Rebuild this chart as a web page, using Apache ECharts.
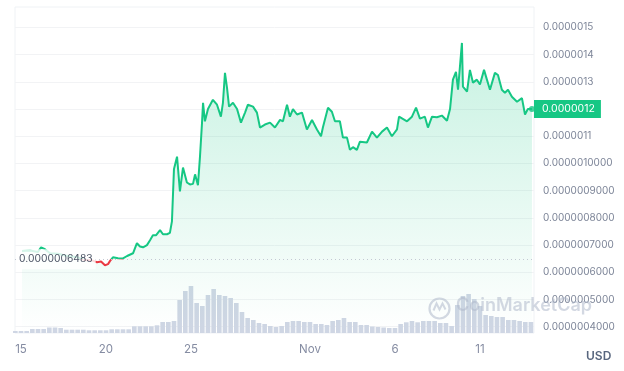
<!DOCTYPE html>
<html>
<head>
<meta charset="utf-8">
<script src="https://cdn.jsdelivr.net/npm/echarts@6/dist/echarts.min.js"></script>
<style>
html,body{margin:0;padding:0;background:#fff;}
#chart{width:624px;height:371px;}
</style>
</head>
<body>
<div id="chart"></div>
<script>
// ---- data ----
// price in units of 1e-7 USD; time as days since 15 Oct
var dayOffsets = [0.06,0.53,1.0,1.18,1.41,1.71,2.18,2.59,3.0,3.35,3.76,4.18,4.47,4.71,4.94,5.12,5.24,5.41,5.71,6.0,6.24,6.59,6.82,7.0,7.18,7.41,7.59,7.76,7.94,8.18,8.35,8.59,8.76,8.88,9.0,9.18,9.35,9.53,9.76,9.94,10.12,10.24,10.41,10.53,10.65,10.71,10.82,11.0,11.29,11.53,11.76,11.88,12.0,12.12,12.24,12.47,12.71,12.94,13.18,13.35,13.65,13.88,14.06,14.35,14.65,14.94,15.24,15.41,15.65,15.82,16.0,16.24,16.53,16.82,17.12,17.41,17.65,17.76,18.06,18.29,18.47,18.76,18.94,19.18,19.35,19.53,19.76,19.94,20.35,20.65,20.94,21.24,21.53,21.82,22.12,22.24,22.29,22.71,23.0,23.24,23.47,23.76,23.94,24.18,24.47,24.76,25.06,25.24,25.41,25.59,25.71,25.94,26.0,26.24,26.41,26.59,26.82,27.0,27.24,27.41,27.59,27.88,28.06,28.29,28.47,28.65,28.88,29.18,29.47,29.65,29.82,30.06];
var prices = [6.78,6.8,6.75,6.92,6.85,6.7,6.68,6.62,6.58,6.55,6.45,6.44,6.37,6.40,6.26,6.3,6.42,6.55,6.52,6.51,6.6,6.7,7.07,6.95,6.92,7.0,7.18,7.36,7.36,7.55,7.4,7.4,7.45,7.87,9.8,10.25,8.97,9.85,9.3,9.23,9.25,9.6,9.2,10.25,11.5,12.23,11.55,12.0,12.34,12.16,11.72,12.23,13.33,12.78,12.09,12.23,12.0,11.5,11.87,12.16,12.09,11.87,11.32,11.43,11.5,11.32,11.6,11.55,12.16,11.72,12.0,11.8,11.87,11.25,11.6,11.25,11.0,11.32,12.05,11.9,11.55,11.55,10.95,10.95,10.5,10.6,10.5,10.8,10.77,11.17,10.95,11.17,11.32,11.0,11.25,11.72,11.7,11.55,11.72,12.05,11.65,11.72,11.32,11.72,11.7,11.76,11.57,12.0,13.08,13.37,12.71,14.43,12.82,12.64,13.44,12.97,13.08,12.9,13.44,13.08,12.71,13.33,13.25,12.71,12.6,12.71,12.45,12.27,12.4,11.8,12.0,12.0];
// volume, one bar every 8 hours starting at day -0.333 (relative units)
var volumeStart = -0.333;
var volumes = [2,2,2,4,4,4,5.5,5.5,5,3.3,3.3,3.3,3.3,2.7,2.7,2.7,2.7,3.7,3.7,3.7,3.7,6.7,6.7,6.7,6.7,7.7,11,11,12,33,42,47,30,27,38,44,38,37,35,30,21,15,13,10,9,7,6,7,11,12,12,11,11,9,9,8,12,13,15,11,11,8,8,6.5,6,5.5,5,5,9,10.7,12,10.7,12,12,12,10,10,7,28,37,39,34,27,18,17,16,16,13,13,12,11,11];
var refPrice = 6.483;
var refLabel = '0.0000006483';
var lastLabel = '0.0000012';
var yTickValues = [4,5,6,7,8,9,10,11,12,13,14,15];
var yTickLabels = ['0.0000004000','0.0000005000','0.0000006000','0.0000007000','0.0000008000','0.0000009000','0.0000010000','0.0000011','0.0000012','0.0000013','0.0000014','0.0000015'];
var xTickDates = ['2023-10-15','2023-10-20','2023-10-25','2023-11-01','2023-11-06','2023-11-11'];
var xTickLabels = ['15','20','25','Nov','6','11'];
var unitLabel = 'USD';

// ---- build ----
var DAY = 86400000;
var base = Date.UTC(2023, 9, 15);
var priceData = dayOffsets.map(function(d,i){ return [d, prices[i]]; });
var volData = volumes.map(function(v,i){ return [volumeStart + i/3, v]; });
var xTickDays = xTickDates.map(function(s){ var p=s.split('-'); return Math.round((Date.UTC(+p[0], +p[1]-1, +p[2]) - base)/DAY); });
var xLabelMap = {}; xTickDays.forEach(function(t,i){ xLabelMap[t] = xTickLabels[i]; });
var yLabelMap = {}; yTickValues.forEach(function(v,i){ yLabelMap[v] = yTickLabels[i]; });
var last = priceData[priceData.length-1];
var GREEN = '#16c784', RED = '#ea3943';

var chart = echarts.init(document.getElementById('chart'), null, {renderer:'canvas'});
var option = {
  animation: false,
  backgroundColor: '#ffffff',
  textStyle: { fontFamily: 'Inter, "Noto Sans", sans-serif' },
  grid: { left: 15, right: 90, top: 7, bottom: 38, show: true, borderColor: '#eff2f5', borderWidth: 1 },
  xAxis: {
    type: 'value',
    min: -0.353, max: 30.18,
    axisLine: { show: false },
    axisTick: { show: false, customValues: xTickDays },
    splitLine: { show: false },
    axisLabel: {
      customValues: xTickDays,
      formatter: function(v){ return xLabelMap[Math.round(v)] || ''; },
      color: '#858ca2', fontSize: 11.5, margin: 11
    }
  },
  yAxis: [{
    type: 'value', position: 'right',
    min: 3.77, max: 15.75,
    axisLine: { show: false },
    axisTick: { show: false, customValues: yTickValues },
    splitLine: { show: true, lineStyle: { color: '#f2f3f5', width: 1 } },
    axisLabel: {
      customValues: yTickValues,
      formatter: function(v){ return yLabelMap[Math.round(v)] || ''; },
      color: '#7d8598', fontSize: 10, margin: 9
    }
  }, {
    type: 'value', min: 0, max: 326, show: false,
    splitLine: { show: false }
  }],
  series: [{
    type: 'bar', yAxisIndex: 1, data: volData, barWidth: 4.6,
    itemStyle: { color: '#cfd6e4' }, silent: true, z: 1
  }, {
    type: 'line', data: priceData, showSymbol: false, smooth: false,
    lineStyle: { width: 2, color: GREEN }, itemStyle: { color: GREEN }, silent: true, z: 3,
    areaStyle: {
      color: new echarts.graphic.LinearGradient(0,0,0,1,[
        {offset:0, color:'rgba(22,199,132,0.34)'},
        {offset:1, color:'rgba(22,199,132,0.0)'}
      ])
    }
  }, {
    type: 'line', data: [], silent: true, z: 5,
    markLine: {
      silent: true, symbol: ['none','none'], z: 5,
      data: [
        { yAxis: refPrice,
          lineStyle: { type: [1,3], color: '#c3c8d2', width: 1 },
          label: { show: true, position: 'insideStart', formatter: refLabel, color: '#4d5566', fontSize: 10.3,
                   backgroundColor: 'rgba(255,255,255,0.82)', padding: [5,3,5,3], distance: 1 } },
        { yAxis: last[1],
          lineStyle: { color: 'rgba(0,0,0,0)', width: 0 },
          label: { show: true, position: 'end', formatter: lastLabel, color: '#ffffff', fontSize: 10.5,
                   backgroundColor: GREEN, padding: [4,6,3,8], distance: 0 } }
      ]
    }
  }, {
    type: 'scatter', data: [last], symbolSize: 6, itemStyle: { color: GREEN }, silent: true, z: 4
  }],
  graphic: [
    { type: 'circle', left: 427, top: 296, shape: { r: 10 }, style: { fill: 'none', stroke: 'rgba(175,184,202,0.55)', lineWidth: 2.2 }, z: 10 },
    { type: 'polyline', left: 431, top: 301, shape: { points: [[0,9],[3,2],[6,8],[9,2],[12,8]] }, style: { fill: 'none', stroke: 'rgba(175,184,202,0.55)', lineWidth: 2 }, z: 10 },
    { type: 'text', left: 456, top: 297, style: { text: 'CoinMarketCap', fill: 'rgba(175,184,202,0.55)', font: '600 18px Inter, "Noto Sans", sans-serif' }, z: 10 },
    { type: 'text', left: 586, top: 350, style: { text: unitLabel, fill: '#58667e', font: '600 12px Inter, "Noto Sans", sans-serif' } }
  ]
};
chart.setOption(option);
// colour the line red below the reference price (global gradient in pixel space)
var refY = chart.convertToPixel({yAxisIndex: 0}, refPrice);
var H = 371, off = refY / H;
chart.setOption({ series: [{}, { lineStyle: { color: new echarts.graphic.LinearGradient(0, 0, 0, H, [
  {offset: 0, color: GREEN}, {offset: off, color: GREEN}, {offset: off, color: RED}, {offset: 1, color: RED}
], true) } }] });
</script>
</body>
</html>
